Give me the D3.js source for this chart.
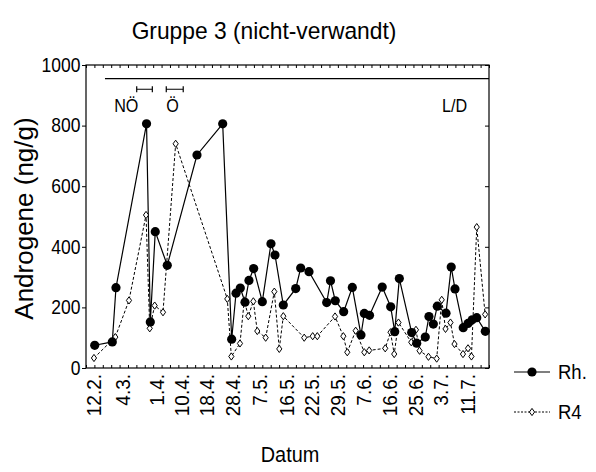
<!DOCTYPE html>
<html>
<head>
<meta charset="utf-8">
<script src="https://cdn.jsdelivr.net/npm/d3@7"></script>
<style>
  body { margin: 0; background: #fff; }
  svg { font-family: "Liberation Sans", Arial, sans-serif; }
</style>
</head>
<body>
<svg width="596" height="472"></svg>
<script>
// x positions are sample slots (one minor tick = one slot)
const tickLabels = ['12.2.', '4.3.', '1.4.', '10.4.', '18.4.', '28.4.', '7.5.', '16.5.', '22.5.', '29.5.', '7.6.', '16.6.', '25.6.', '3.7.', '11.7.'];
const tickSlots = [0.9, 4.4, 8.45, 11.4, 14.4, 17.5, 20.7, 23.9, 26.9, 29.9, 33.0, 36.2, 39.2, 42.2, 45.4];

const rhSlot = [1.04, 3.13, 3.57, 7.21, 7.66, 8.25, 9.68, 13.22, 16.28, 17.35, 17.87, 18.38, 18.94, 19.41, 19.97, 21.0, 22.03, 22.51, 23.5, 24.98, 25.57, 26.56, 28.67, 29.12, 29.69, 30.69, 31.72, 32.75, 33.15, 33.77, 35.28, 36.29, 36.77, 37.32, 38.79, 39.39, 40.41, 40.85, 41.37, 41.84, 42.88, 43.5, 43.95, 44.93, 45.5, 46.0, 46.54, 47.56];
const rhVal = [75, 86, 265, 806, 152, 450, 339, 703, 806, 95, 247, 264, 217, 289, 328, 219, 410, 373, 208, 262, 330, 318, 216, 288, 222, 186, 266, 109, 180, 174, 267, 202, 120, 295, 117, 82, 102, 170, 145, 204, 181, 333, 261, 133, 147, 159, 166, 121];

const r4Slot = [0.95, 3.49, 5.12, 7.15, 7.59, 8.18, 9.17, 10.68, 16.83, 17.31, 18.34, 18.85, 19.33, 19.93, 20.4, 21.4, 22.43, 23.02, 23.5, 25.99, 27.0, 27.55, 29.66, 30.65, 31.12, 32.12, 33.15, 33.73, 35.64, 36.27, 36.71, 37.22, 38.74, 39.3, 39.73, 40.79, 41.77, 42.37, 42.82, 43.41, 43.89, 44.9, 45.5, 45.91, 46.54, 47.54];
const r4Val = [33, 102, 223, 505, 131, 206, 184, 740, 228, 38, 81, 223, 171, 220, 122, 100, 252, 63, 171, 100, 105, 105, 170, 105, 52, 123, 52, 58, 65, 118, 46, 150, 85, 126, 57, 37, 31, 225, 129, 150, 79, 46, 65, 38, 465, 177];

const yTicks = [0, 200, 400, 600, 800, 1000];
const ldLevel = 955;
const ldStart = 2.26;
const bracketLevel = 920;
const brackets = [{ name: 'NÖ', from: 6.04, to: 7.9 }, { name: 'Ö', from: 9.56, to: 11.58 }];

const svg = d3.select('svg');
const margin = { top: 65, right: 107, bottom: 104, left: 86 };
const W = 596 - margin.left - margin.right;
const H = 472 - margin.top - margin.bottom;
const g = svg.append('g').attr('transform', `translate(${margin.left},${margin.top})`);

const x = d3.scaleLinear().domain([0, 48]).range([0, W]);
const y = d3.scaleLinear().domain([0, 1000]).range([H, 0]);

// frame
g.append('rect').attr('width', W).attr('height', H)
  .attr('fill', 'none').attr('stroke', '#000').attr('stroke-width', 1.2);

// minor ticks top / bottom (inward)
const slots = d3.range(0, 49);
g.append('g').attr('transform', `translate(0,${H})`)
  .call(d3.axisBottom(x).tickValues(slots).tickSize(-3).tickFormat(''))
  .call(a => a.select('.domain').remove());
g.append('g')
  .call(d3.axisTop(x).tickValues(slots).tickSize(-3).tickFormat(''))
  .call(a => a.select('.domain').remove());

// y axis left (outward) and right (inward)
g.append('g')
  .call(d3.axisLeft(y).tickValues(yTicks).tickSize(4).tickPadding(2).tickFormat(d3.format('d')))
  .call(a => a.select('.domain').remove())
  .call(a => a.selectAll('text').attr('font-size', 19).attr('fill', '#000')
    .attr('transform', 'scale(0.92,1.05)'));
g.append('g').attr('transform', `translate(${W},0)`)
  .call(d3.axisRight(y).tickValues(yTicks).tickSize(-4).tickFormat(''))
  .call(a => a.select('.domain').remove());

// x labels
const xl = g.append('g').attr('transform', `translate(0,${H})`)
  .call(d3.axisBottom(x).tickValues(tickSlots).tickSize(0).tickFormat((d, i) => tickLabels[i]))
  .call(a => a.select('.domain').remove());
xl.selectAll('text')
  .attr('font-size', 19).attr('fill', '#000')
  .attr('transform', 'rotate(-90) scale(1,1.05)')
  .attr('text-anchor', 'end')
  .attr('x', -6).attr('y', 0).attr('dy', '0.35em');

g.selectAll('.tick line').attr('stroke', '#000');

// L/D line and brackets
g.append('line')
  .attr('x1', x(ldStart)).attr('x2', W)
  .attr('y1', y(ldLevel)).attr('y2', y(ldLevel))
  .attr('stroke', '#000').attr('stroke-width', 1.2);
brackets.forEach(b => {
  const by = y(bracketLevel);
  g.append('path')
    .attr('d', `M${x(b.from)},${by - 3}V${by + 3}M${x(b.from)},${by}H${x(b.to)}M${x(b.to)},${by - 3}V${by + 3}`)
    .attr('fill', 'none').attr('stroke', '#000').attr('stroke-width', 1.2);
});
const note = (s, v, t) => g.append('text')
  .attr('transform', `translate(${x(s)},${y(v)}) scale(0.95,1.1)`)
  .attr('text-anchor', 'middle').attr('font-size', 17).text(t);
note(4.8, 845, 'NÖ');
note(10.3, 845, 'Ö');
note(43.9, 845, 'L/D');

// series
const rh = rhSlot.map((s, i) => ({ s, v: rhVal[i] }));
const r4 = r4Slot.map((s, i) => ({ s, v: r4Val[i] }));
const line = d3.line().x(d => x(d.s)).y(d => y(d.v));

g.append('path').datum(r4).attr('d', line)
  .attr('fill', 'none').attr('stroke', '#000').attr('stroke-width', 1).attr('stroke-dasharray', '3,2');
g.append('path').datum(rh).attr('d', line)
  .attr('fill', 'none').attr('stroke', '#000').attr('stroke-width', 1.2);

const diamond = 'M0,-3.6L2.6,0L0,3.6L-2.6,0Z';
g.selectAll('.r4').data(r4).enter().append('path')
  .attr('class', 'r4')
  .attr('transform', d => `translate(${x(d.s)},${y(d.v)})`)
  .attr('d', diamond).attr('fill', '#fff').attr('stroke', '#000').attr('stroke-width', 1);
g.selectAll('.rh').data(rh).enter().append('circle')
  .attr('class', 'rh')
  .attr('cx', d => x(d.s)).attr('cy', d => y(d.v)).attr('r', 4.6).attr('fill', '#000');

// titles
svg.append('text').attr('transform', 'translate(264,39) scale(0.97,1.05)').attr('text-anchor', 'middle')
  .attr('font-size', 23.5).text('Gruppe 3 (nicht-verwandt)');
svg.append('text').attr('transform', `translate(33,${margin.top + H / 2 + 2}) rotate(-90)`)
  .attr('text-anchor', 'middle').attr('font-size', 26).text('Androgene (ng/g)');
svg.append('text').attr('transform', 'translate(290,462) scale(0.97,1.08)').attr('text-anchor', 'middle')
  .attr('font-size', 20.5).text('Datum');

// legend
const leg = svg.append('g').attr('transform', 'translate(514,372)');
leg.append('line').attr('x1', 0).attr('x2', 36).attr('stroke', '#000').attr('stroke-width', 1.2);
leg.append('circle').attr('cx', 18).attr('r', 4.6).attr('fill', '#000');
leg.append('text').attr('transform', 'translate(44,7) scale(0.95,1.08)').attr('font-size', 19.5).text('Rh.');
const leg2 = svg.append('g').attr('transform', 'translate(514,412)');
leg2.append('line').attr('x1', 0).attr('x2', 36).attr('stroke', '#000').attr('stroke-width', 1).attr('stroke-dasharray', '2,1.5');
leg2.append('path').attr('transform', 'translate(18,0)').attr('d', diamond).attr('fill', '#fff').attr('stroke', '#000');
leg2.append('text').attr('transform', 'translate(44,7) scale(0.95,1.08)').attr('font-size', 19.5).text('R4');
</script>
</body>
</html>
